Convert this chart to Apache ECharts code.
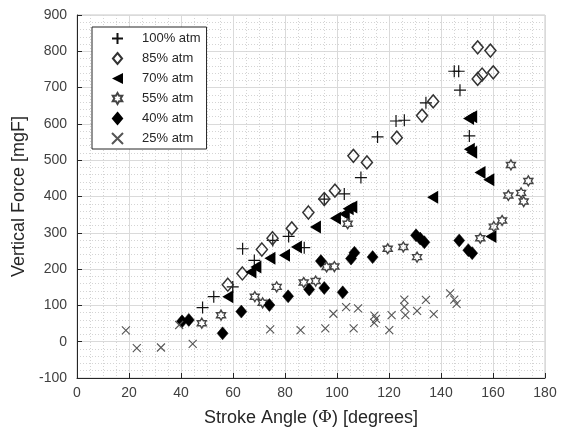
<!DOCTYPE html>
<html>
<head>
<meta charset="utf-8">
<script src="https://cdn.jsdelivr.net/npm/echarts@6/dist/echarts.min.js"></script>
<style>html,body{margin:0;padding:0;background:#fff}#c{width:563px;height:432px}</style>
</head>
<body>
<div id="c"></div>
<script>
var seriesNames = ['100% atm', '85% atm', '70% atm', '55% atm', '40% atm', '25% atm'];
var xTicks = [0, 20, 40, 60, 80, 100, 120, 140, 160, 180];
var yTicks = [-100, 0, 100, 200, 300, 400, 500, 600, 700, 800, 900];

var atm100 = [[48.3,94],[52.6,124],[59.9,151],[63.7,256],[68.2,224],[75.3,279],[81.4,290],[87.4,259],[95.1,393],[102.8,407],[109.2,452],[115.6,564],[122.7,608],[125.9,610],[134.2,658],[145.1,745],[146.8,745],[147.3,693],[150.9,567]];
var atm85 = [[58,157],[63.6,188],[71.1,254],[75.2,285],[82.6,312],[89,356],[95.1,393],[99.2,416],[106.3,512],[111.5,494],[123,562],[132.7,623],[137,662],[154.1,811],[159,802],[154.1,724],[155.8,736],[160.1,742]];
var atm70 = [[58,124],[66.9,192],[68.8,206],[74.2,230],[79.8,238],[84.4,261],[91.7,316],[99.4,340],[102.8,352],[104.3,366],[105.7,371],[136.8,398],[150.6,615],[151.8,620],[150.9,530],[151.8,522],[155,466],[158.4,446],[159.2,290]];
var atm55 = [[48,51],[55.4,73],[68.4,124],[71.4,107],[76.8,151],[87.2,163],[91.8,167],[96,206],[99,207],[104.1,325],[119.5,256],[125.5,261],[130.8,233],[155.1,285],[160.3,317],[163.5,334],[165.9,403],[166.9,487],[170.8,410],[171.8,386],[173.6,443]];
var atm40 = [[40.4,56],[43,60],[56,23],[63.2,83],[74,101],[81.2,125],[89.3,144],[95.1,148],[102.2,136],[93.8,222],[105.4,229],[106.7,245],[113.7,233],[130.4,293],[132,284],[133.6,274],[147,279],[150.5,252],[152,244]];
var atm25 = [[18.8,31],[23,-18],[32.3,-16],[39.3,46],[44.5,-6],[74.3,34],[86,32],[95.5,37],[98.6,77],[103.5,95],[106.4,37],[108.1,92],[114.4,72],[115,63],[114.3,52],[120.1,32],[121,73],[125.9,116],[125.9,96],[126.3,73],[130.8,85],[134.2,115],[137.2,76],[143.5,133],[145.1,116],[146,104]];

var FONT = '"Liberation Sans", Arial, Helvetica, sans-serif';
var PLUS = 'path://M5,0L5,10M0,5L10,5';
var CROSS = 'path://M0,0L10,10M0,10L10,0';
var LTRI = 'path://M0,5L10,0L10,10Z';
var DIAM = 'path://M5,0L10,6L5,12L0,6Z';
var HEX = 'path://M10,0L12.89,5L18.66,5L15.77,10L18.66,15L12.89,15L10,20L7.11,15L1.34,15L4.23,10L1.34,5L7.11,5Z';

var chart = echarts.init(document.getElementById('c'), null, {renderer: 'canvas'});
var option = {
  backgroundColor: '#fff',
  animation: false,
  grid: {left: 77, right: 18, top: 15, bottom: 52, show: true, borderColor: '#c8c8c8', borderWidth: 1},
  legend: {
    orient: 'vertical', left: 92, top: 27,
    padding: [5, 6, 4, 19],
    backgroundColor: '#fff', borderColor: '#262626', borderWidth: 1,
    itemWidth: 11, itemHeight: 11, itemGap: 7,
    textStyle: {fontFamily: FONT, fontSize: 13, color: '#262626', padding: [0, 0, 0, 14]},
    data: seriesNames
  },
  xAxis: {
    type: 'value', min: 0, max: 180, interval: 20,
    name: 'Stroke Angle ({phi|Φ}) [degrees]', nameLocation: 'middle', nameGap: 31,
    nameTextStyle: {fontFamily: FONT, fontSize: 18, color: '#262626',
      rich: {phi: {fontFamily: '"DejaVu Serif", "Liberation Serif", serif', fontSize: 17, color: '#262626'}}},
    axisLine: {show: true, onZero: false, lineStyle: {color: '#262626', width: 1}},
    axisTick: {show: true, inside: true, length: 5, lineStyle: {color: '#262626'}},
    axisLabel: {fontFamily: FONT, fontSize: 14, color: '#404040', margin: 8},
    splitLine: {show: true, lineStyle: {color: '#dadada', width: 1}},
    minorTick: {show: false, splitNumber: 4},
    minorSplitLine: {show: true, lineStyle: {color: '#d4d4d4', width: 1, type: [1, 2]}}
  },
  yAxis: {
    type: 'value', min: -100, max: 900, interval: 100,
    name: 'Vertical Force [mgF]', nameLocation: 'middle', nameGap: 45, nameRotate: 90,
    nameTextStyle: {fontFamily: FONT, fontSize: 18, color: '#262626'},
    axisLine: {show: true, onZero: false, lineStyle: {color: '#262626', width: 1}},
    axisTick: {show: true, inside: true, length: 5, lineStyle: {color: '#262626'}},
    axisLabel: {fontFamily: FONT, fontSize: 14, color: '#404040', margin: 10},
    splitLine: {show: true, lineStyle: {color: '#dadada', width: 1}},
    minorTick: {show: false, splitNumber: 5},
    minorSplitLine: {show: true, lineStyle: {color: '#d4d4d4', width: 1, type: [1, 2]}}
  },
  series: [
    {name: seriesNames[0], type: 'scatter', data: atm100, symbol: PLUS, symbolSize: 12,
     itemStyle: {opacity: 1, color: 'rgba(0,0,0,0)', borderColor: '#111', borderWidth: 1.2}},
    {name: seriesNames[1], type: 'scatter', data: atm85, symbol: DIAM, symbolSize: [11, 13],
     itemStyle: {opacity: 1, color: 'rgba(255,255,255,0)', borderColor: '#333', borderWidth: 1.5}},
    {name: seriesNames[2], type: 'scatter', data: atm70, symbol: LTRI, symbolSize: [11, 13],
     itemStyle: {opacity: 1, color: '#000', borderColor: '#000', borderWidth: 0}},
    {name: seriesNames[3], type: 'scatter', data: atm55, symbol: HEX, symbolSize: [9, 10],
     itemStyle: {opacity: 1, color: 'rgba(0,0,0,0)', borderColor: '#444', borderWidth: 1.4}},
    {name: seriesNames[4], type: 'scatter', data: atm40, symbol: DIAM, symbolSize: [11, 13],
     itemStyle: {opacity: 1, color: '#000', borderColor: '#000', borderWidth: 0.5}},
    {name: seriesNames[5], type: 'scatter', data: atm25, symbol: CROSS, symbolSize: 8,
     itemStyle: {opacity: 1, color: 'rgba(0,0,0,0)', borderColor: '#555', borderWidth: 1.1}}
  ]
};
chart.setOption(option);
</script>
</body>
</html>
